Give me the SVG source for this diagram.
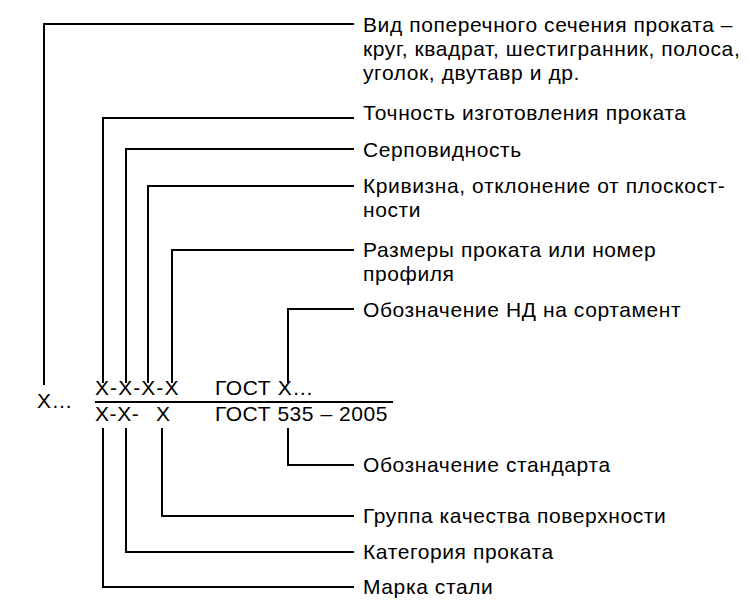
<svg xmlns="http://www.w3.org/2000/svg" width="750" height="611" viewBox="0 0 750 611">
<style>
text{font-family:"Liberation Sans",Arial,sans-serif;font-size:21px;letter-spacing:0.6px;fill:#000}
.ln{fill:none;stroke:#000;stroke-width:2}
</style>
<rect width="750" height="611" fill="#fff"/>
<g id="connectors" class="ln">
<polyline points="44,385 44,24 354,24"/>
<polyline points="103,383 103,118 354,118"/>
<polyline points="126,383 126,149 354,149"/>
<polyline points="148,383 148,186 354,186"/>
<polyline points="172,383 172,250 354,250"/>
<polyline points="288,383 288,309 354,309"/>
<line x1="95" y1="402" x2="393" y2="402"/>
<polyline points="288,428 288,465 354,465"/>
<polyline points="162,428 162,516 354,516"/>
<polyline points="126,428 126,552 354,552"/>
<polyline points="103,428 103,587 354,587"/>
</g>
<g id="formula">
<text x="37" y="408">X…</text>
<text x="95" y="395" textLength="84">X-X-X-X</text>
<text x="215" y="395">ГОСТ X…</text>
<text x="95" y="421">X-X-</text>
<text x="156" y="421">X</text>
<text x="215" y="421" textLength="173">ГОСТ 535 – 2005</text>
</g>
<g id="n1"><text x="363" y="32">Вид поперечного сечения проката –</text><text x="363" y="56">круг, квадрат, шестигранник, полоса,</text><text x="363" y="80">уголок, двутавр и др.</text></g>
<g id="n2"><text x="363" y="120">Точность изготовления проката</text></g>
<g id="n3"><text x="363" y="157">Серповидность</text></g>
<g id="n4"><text x="363" y="193">Кривизна, отклонение от плоскост-</text><text x="363" y="217">ности</text></g>
<g id="n5"><text x="363" y="257">Размеры проката или номер</text><text x="363" y="281">профиля</text></g>
<g id="n6"><text x="363" y="317">Обозначение НД на сортамент</text></g>
<g id="n7"><text x="363" y="472">Обозначение стандарта</text></g>
<g id="n8"><text x="363" y="523">Группа качества поверхности</text></g>
<g id="n9"><text x="363" y="559">Категория проката</text></g>
<g id="n10"><text x="363" y="594">Марка стали</text></g>
</svg>
